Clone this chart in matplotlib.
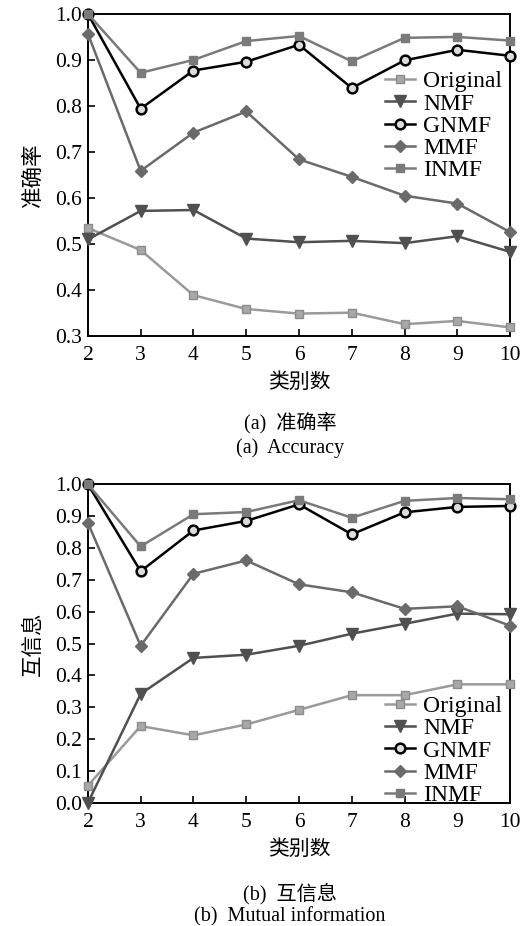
import numpy as np
import matplotlib
matplotlib.use('Agg')
import matplotlib.pyplot as plt

plt.rcParams['font.family'] = ['Liberation Serif', 'Noto Sans CJK SC']

# 类别数
k = [2, 3, 4, 5, 6, 7, 8, 9, 10]
methods = ['Original', 'NMF', 'GNMF', 'MMF', 'INMF']

# (a) 准确率
acc_original = [0.535, 0.487, 0.389, 0.359, 0.349, 0.351, 0.326, 0.333, 0.319]
acc_nmf = [0.510, 0.572, 0.574, 0.512, 0.504, 0.507, 0.502, 0.517, 0.483]
acc_gnmf = [1.0, 0.794, 0.877, 0.896, 0.933, 0.839, 0.899, 0.922, 0.909]
acc_mmf = [0.957, 0.659, 0.742, 0.788, 0.684, 0.646, 0.605, 0.588, 0.526]
acc_inmf = [1.0, 0.872, 0.900, 0.941, 0.952, 0.897, 0.948, 0.950, 0.942]

# (b) 互信息
nmi_original = [0.054, 0.241, 0.212, 0.246, 0.292, 0.338, 0.338, 0.372, 0.372]
nmi_nmf = [0.0, 0.342, 0.455, 0.465, 0.493, 0.531, 0.562, 0.594, 0.592]
nmi_gnmf = [1.0, 0.727, 0.855, 0.885, 0.937, 0.843, 0.912, 0.929, 0.932]
nmi_mmf = [0.879, 0.493, 0.719, 0.761, 0.686, 0.661, 0.609, 0.617, 0.556]
nmi_inmf = [1.0, 0.805, 0.906, 0.913, 0.950, 0.895, 0.948, 0.957, 0.953]

# 样式
styles = {
    'Original': dict(color='#9a9a9a', marker='s', mfc='#a8a8a8', mec='#8c8c8c', ms=6),
    'NMF': dict(color='#505050', marker='v', mfc='#505050', mec='#505050', ms=8),
    'GNMF': dict(color='#000000', marker='o', mfc='#dddddd', mec='#000000', ms=7, mew=1.8),
    'MMF': dict(color='#6a6a6a', marker='D', mfc='#6a6a6a', mec='#6a6a6a', ms=6),
    'INMF': dict(color='#7a7a7a', marker='s', mfc='#7a7a7a', mec='#7a7a7a', ms=6),
}


def draw(ax, series, ylim, yticks, ylabel, legend_loc, legend_anchor):
    for name, vals in zip(methods, series):
        ax.plot(k, vals, lw=1.8, label=name, clip_on=False, zorder=3, **styles[name])
    ax.set_xlim(2, 10)
    ax.set_ylim(*ylim)
    ax.set_xticks(k)
    ax.set_yticks(yticks)
    ax.set_yticklabels(['%.1f' % t for t in yticks])
    ax.tick_params(direction='in', length=5, width=1.2, labelsize=15.5, top=False, right=False)
    ax.tick_params(axis='x', pad=7)
    ax.tick_params(axis='y', pad=4)
    for sp in ax.spines.values():
        sp.set_linewidth(1.4)
    ax.set_xlabel('类别数', fontsize=15, labelpad=6)
    ax.set_ylabel(ylabel, fontsize=15.5, labelpad=8)
    ax.legend(loc=legend_loc, bbox_to_anchor=legend_anchor, frameon=False, fontsize=17,
              handlelength=1.25, handletextpad=0.35, labelspacing=0.03,
              borderpad=0.0, borderaxespad=0.0)


fig = plt.figure(figsize=(5.2, 9.26), dpi=100)
ax1 = fig.add_axes([0.169, 0.637, 0.812, 0.348])
ax2 = fig.add_axes([0.169, 0.133, 0.812, 0.344])

draw(ax1, [acc_original, acc_nmf, acc_gnmf, acc_mmf, acc_inmf], (0.3, 1.0),
     np.arange(0.3, 1.01, 0.1), '准确率', 'upper right', (0.981, 0.823))
draw(ax2, [nmi_original, nmi_nmf, nmi_gnmf, nmi_mmf, nmi_inmf], (0.0, 1.0),
     np.arange(0.0, 1.01, 0.1), '互信息', 'lower right', (0.981, -0.01))

fig.text(0.558, 1 - 423 / 926, '(a)  准确率', ha='center', va='center', fontsize=14.5)
fig.text(0.558, 1 - 448 / 926, '(a)  Accuracy', ha='center', va='center', fontsize=14.5)
fig.text(0.558, 1 - 894 / 926, '(b)  互信息', ha='center', va='center', fontsize=14.5)
fig.text(0.558, 1 - 917 / 926, '(b)  Mutual information', ha='center', va='center', fontsize=14.5)

fig.savefig('out.png', dpi=100)
